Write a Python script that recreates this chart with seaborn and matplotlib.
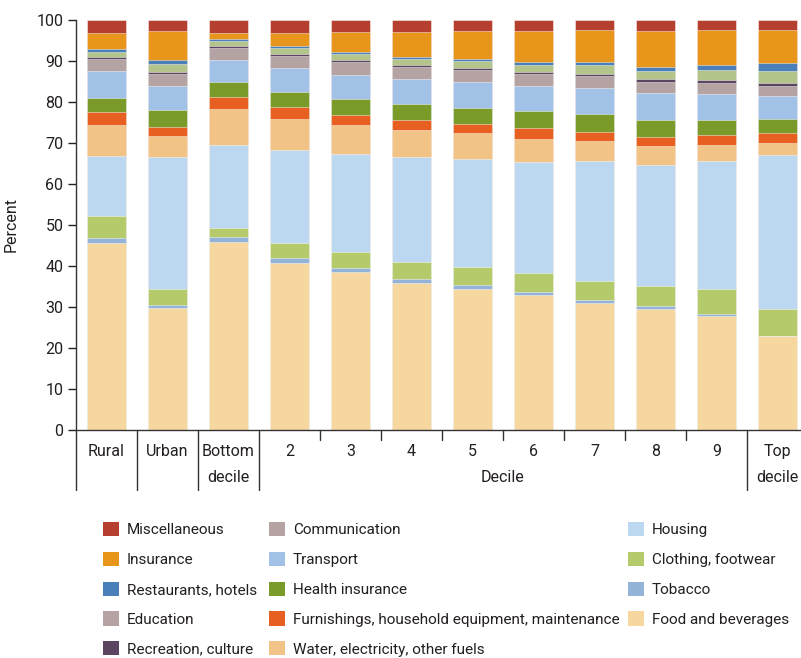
import numpy as np
import pandas as pd
import matplotlib
matplotlib.use("Agg")
import matplotlib.pyplot as plt
import matplotlib.patches as mpatches
import matplotlib.transforms as mtransforms
import seaborn as sns

categories = ["Rural", "Urban", "Bottom\ndecile", "2", "3", "4", "5", "6", "7", "8", "9", "Top\ndecile"]

# components, bottom to top
components = ["Food and beverages", "Tobacco", "Clothing, footwear", "Housing",
              "Water, electricity, other fuels",
              "Furnishings, household equipment, maintenance", "Health insurance",
              "Transport", "Communication", "Recreation, culture", "Education",
              "Restaurants, hotels", "Insurance", "Miscellaneous"]

food = [45.5, 29.7, 45.9, 40.7, 38.5, 35.8, 34.4, 32.9, 31.0, 29.5, 27.8, 22.9]
tobacco = [1.3, 0.7, 1.1, 1.3, 1.1, 1.0, 0.9, 0.8, 0.8, 0.7, 0.5, 0.1]
clothing = [5.3, 4.1, 2.3, 3.5, 3.7, 4.2, 4.5, 4.7, 4.6, 5.0, 6.0, 6.4]
housing = [14.7, 32.0, 20.3, 22.7, 24.0, 25.5, 26.3, 27.0, 29.1, 29.4, 31.3, 37.7]
water = [7.6, 5.2, 8.8, 7.7, 7.0, 6.7, 6.3, 5.6, 5.1, 4.7, 4.0, 3.0]
furnishings = [3.2, 2.2, 2.7, 2.8, 2.6, 2.3, 2.2, 2.6, 2.2, 2.2, 2.3, 2.4]
health_ins = [3.3, 4.2, 3.9, 3.8, 3.8, 4.1, 4.0, 4.2, 4.2, 4.2, 3.7, 3.4]
transport = [6.7, 5.7, 5.2, 5.7, 5.9, 6.0, 6.2, 6.0, 6.3, 6.4, 6.4, 5.6]
communication = [2.9, 3.0, 3.0, 3.1, 3.2, 3.0, 3.0, 3.0, 3.0, 2.9, 2.7, 2.4]
recreation = [0.5, 0.5, 0.5, 0.5, 0.4, 0.5, 0.5, 0.5, 0.6, 0.6, 0.7, 0.7]
education = [1.2, 2.0, 1.3, 1.4, 1.6, 1.4, 1.7, 1.7, 2.1, 2.0, 2.4, 2.9]
restaurants = [0.7, 1.0, 0.3, 0.5, 0.5, 0.5, 0.6, 0.8, 0.7, 1.0, 1.2, 2.1]
insurance = [4.0, 7.1, 1.6, 3.2, 4.7, 6.1, 6.6, 7.5, 7.9, 8.8, 8.6, 8.0]
misc = [3.1, 2.6, 3.1, 3.1, 3.0, 2.9, 2.8, 2.7, 2.4, 2.6, 2.4, 2.4]

series = [food, tobacco, clothing, housing, water, furnishings, health_ins,
          transport, communication, recreation, education, restaurants, insurance, misc]

bar_colors = ["#f7d7a0", "#94b3d9", "#b5ca6b", "#bcd7f0", "#f2c387", "#e86021",
              "#7a9b2a", "#a1c1e6", "#b5a2a2", "#5b4560", "#b3c58a", "#4a7fba",
              "#e8961b", "#b5402f"]
legend_colors = list(bar_colors)
legend_colors[components.index("Education")] = "#b5a2a2"

# long-form data with cumulative tops
rows = []
for ci, cat in enumerate(categories):
    cum = 0.0
    for comp, vals in zip(components, series):
        cum += vals[ci]
        rows.append(dict(category=cat, component=comp, value=vals[ci], top=cum))
df = pd.DataFrame(rows)
totals = df.groupby("category", sort=False)["value"].transform("sum")
df["top"] = df["top"] / totals * 100

sns.set_theme(style="white")
plt.rcParams["font.family"] = ["Roboto", "DejaVu Sans"]
text_color = "#231f20"
plt.rcParams["text.color"] = text_color
plt.rcParams["axes.labelcolor"] = text_color
plt.rcParams["xtick.color"] = text_color
plt.rcParams["ytick.color"] = text_color

W, H = 801, 658
fig = plt.figure(figsize=(W / 100, H / 100), dpi=100)
ax_left, ax_right, ax_top, ax_bottom = 76, 808, 20, 430
ax = fig.add_axes([ax_left / W, 1 - ax_bottom / H, (ax_right - ax_left) / W, (ax_bottom - ax_top) / H])

for comp, col in zip(components[::-1], bar_colors[::-1]):
    sub = df[df["component"] == comp]
    sns.barplot(data=sub, x="category", y="top", order=categories, color=col,
                saturation=1, width=0.64, errorbar=None, ax=ax,
                edgecolor=(1, 1, 1, 0.45), linewidth=0.7)

tick_fs = 11.5
ax.set_xlim(-0.5, 11.5)
ax.set_ylim(0, 100)
ax.set_yticks(np.arange(0, 101, 10))
ax.set_xticks(range(len(categories)))
ax.set_xticklabels(categories, fontsize=tick_fs, va="top", linespacing=1.95)
ax.tick_params(axis="x", length=0, pad=10)
ax.tick_params(axis="y", length=5.5, width=1, direction="out", pad=3.5, labelsize=tick_fs, left=True)
ax.set_xlabel("")
ax.set_ylabel("Percent", fontsize=tick_fs)
ax.yaxis.set_label_coords(-0.079, 0.5)

for s in ["top", "right"]:
    ax.spines[s].set_visible(False)
for s in ["left", "bottom"]:
    ax.spines[s].set_color("#333333")
    ax.spines[s].set_linewidth(1.0)

# separators below the axis
trans = mtransforms.blended_transform_factory(ax.transData, ax.transAxes)
long_y = -(490 - ax_bottom) / (ax_bottom - ax_top)
short_y = -(440 - ax_bottom) / (ax_bottom - ax_top)
for xs in [-0.5, 0.5, 1.5, 2.5, 10.5]:
    ax.plot([xs, xs], [0, long_y], transform=trans, color="#333333", lw=1.0, clip_on=False)
for xs in np.arange(3.5, 10.0, 1.0):
    ax.plot([xs, xs], [0, short_y], transform=trans, color="#333333", lw=1.0, clip_on=False)
ax.text(6.5, -(478 - ax_bottom) / (ax_bottom - ax_top), "Decile", transform=trans,
        ha="center", va="center", fontsize=tick_fs)

# legend in three columns
handles = [mpatches.Patch(facecolor=c, edgecolor="none", label=l)
           for l, c in zip(components, legend_colors)]
handles = handles[::-1]
cols = [handles[0:5], handles[5:10], handles[10:14]]
col_x = [103, 269, 628]
fs = 11
for hs, x in zip(cols, col_x):
    fig.legend(handles=hs, loc="upper left", bbox_to_anchor=(x / W, 1 - 522 / H),
               frameon=False, fontsize=fs, borderpad=0, borderaxespad=0,
               handlelength=1.05, handleheight=1.05, handletextpad=0.5,
               labelspacing=0.95)

fig.savefig("out.png", dpi=100)
